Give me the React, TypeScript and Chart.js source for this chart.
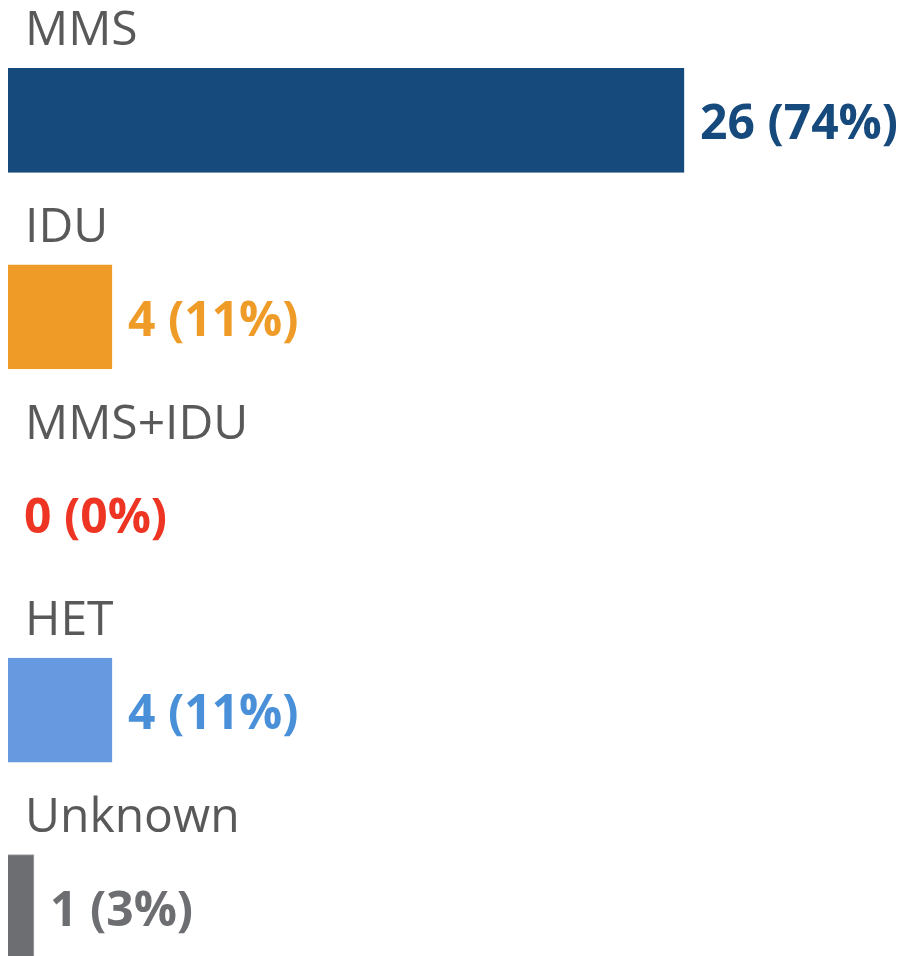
import React, { useEffect, useRef } from "react";
import { Chart, registerables } from "chart.js";

Chart.register(...registerables);

const categories = ["MMS", "IDU", "MMS+IDU", "HET", "Unknown"];
const counts = [26, 4, 0, 4, 1];
const percents = [74, 11, 0, 11, 3];
const barColors = ["#174A7C", "#EF9B28", "#EE3524", "#6699E0", "#6D6E71"];
const barBorderColors = ["#174A7C", "#EF9B28", "#EE3524", "#6699E0", "#A7A8AA"];
const valueColors = ["#174A7C", "#EF9B28", "#EE3524", "#4A90D9", "#6D6E71"];
const xMax = 34.15;

const labelPlugin = {
  id: "rowLabels",
  afterDatasetsDraw(chart: any) {
    const ctx = chart.ctx;
    const meta = chart.getDatasetMeta(0);
    const area = chart.chartArea;
    ctx.save();
    meta.data.forEach((bar: any, i: number) => {
      const y = bar.y;
      const half = bar.height / 2;
      ctx.textAlign = "left";
      ctx.textBaseline = "alphabetic";
      ctx.fillStyle = "#595959";
      ctx.font = "400 48px 'Open Sans'";
      ctx.fillText(categories[i], area.left + 17, y - half - 23);
      ctx.fillStyle = valueColors[i];
      ctx.font = "700 48px 'Open Sans'";
      ctx.fillText(`${counts[i]} (${percents[i]}%)`, bar.x + 16, y + 19);
    });
    ctx.restore();
  },
};

export default function App() {
  const ref = useRef<HTMLCanvasElement>(null);
  useEffect(() => {
    document.documentElement.style.overflow = "hidden";
    document.body.style.overflow = "hidden";
    const chart = new Chart(ref.current!, {
      type: "bar",
      data: {
        labels: categories,
        datasets: [
          {
            data: counts,
            backgroundColor: barColors,
            borderColor: barBorderColors,
            borderWidth: 1,
            barThickness: 104,
          },
        ],
      },
      options: {
        indexAxis: "y",
        animation: false,
        responsive: true,
        maintainAspectRatio: false,
        layout: { padding: { top: 14, left: 0, right: 0, bottom: 0 } },
        plugins: {
          legend: { display: false },
          tooltip: { enabled: false },
          title: { display: false },
        },
        scales: {
          x: { display: false, min: 0, max: xMax, grid: { display: false } },
          y: { display: false, grid: { display: false } },
        },
      },
      plugins: [labelPlugin],
    });
    return () => chart.destroy();
  }, []);
  return (
    <div style={{ width: "100%", height: 997, position: "relative" }}>
      <canvas ref={ref} />
    </div>
  );
}
